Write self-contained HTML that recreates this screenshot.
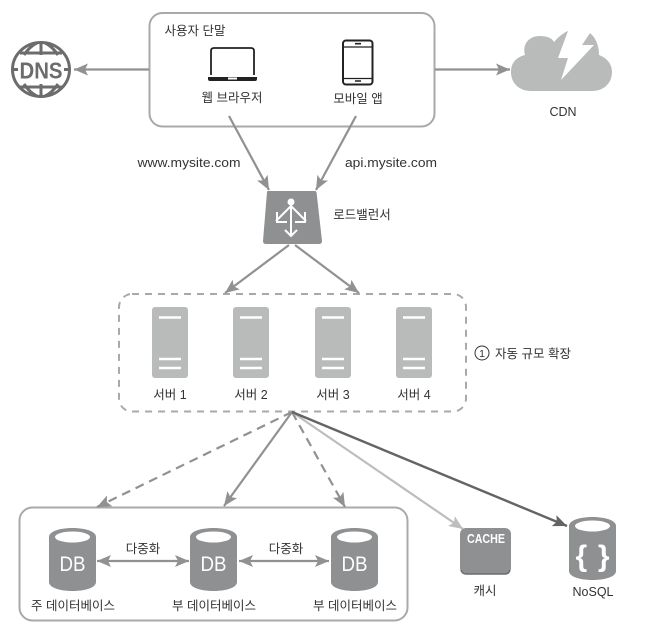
<!DOCTYPE html>
<html><head><meta charset="utf-8">
<style>
html,body{margin:0;padding:0;background:#fff}
svg{display:block}
text{font-family:"Liberation Sans","Noto Sans CJK KR",sans-serif;font-size:12.5px;fill:#333;text-anchor:middle}
</style></head>
<body>
<svg width="650" height="627" viewBox="0 0 650 627" xmlns="http://www.w3.org/2000/svg">
<defs>
<marker id="a" markerUnits="userSpaceOnUse" markerWidth="15" markerHeight="13" refX="14" refY="6.500" orient="auto-start-reverse"><path d="M0,0.5 L14,6.500 L0,12.500 L3,6.500z" fill="#919191"/></marker>
<marker id="l" markerUnits="userSpaceOnUse" markerWidth="15" markerHeight="13" refX="14" refY="6.500" orient="auto"><path d="M0,0.5 L14,6.500 L0,12.500 L3,6.500z" fill="#bcbebe"/></marker>
<marker id="d" markerUnits="userSpaceOnUse" markerWidth="15" markerHeight="13" refX="14" refY="6.500" orient="auto"><path d="M0,0.5 L14,6.500 L0,12.500 L3,6.500z" fill="#646464"/></marker>
<g id="srv"><rect x="0" y="0" width="36" height="71" rx="3" fill="#b9bbbb"/><path d="M7,10.5H29M7,52H29M7,61H29" stroke="#fff" stroke-width="2.400"/></g>
<g id="db"><path d="M0,9 C0,-3 47,-3 47,9 V54 C47,66 0,66 0,54z" fill="#8f9092"/><ellipse cx="23.500" cy="9" rx="17.500" ry="5.500" fill="#fff"/></g>
</defs>

<!-- containers -->
<rect x="149.500" y="13" width="285" height="113.500" rx="13" fill="none" stroke="#a9a9a9" stroke-width="2"/>
<rect x="119" y="294" width="347" height="117.500" rx="13" fill="none" stroke="#a9a9a9" stroke-width="2" stroke-dasharray="7 6"/>
<rect x="19.500" y="507.500" width="388" height="113" rx="13" fill="none" stroke="#a9a9a9" stroke-width="2"/>

<!-- connectors -->
<g fill="none" stroke="#919191" stroke-width="2.200">
<path d="M149,69.500H74" marker-end="url(#a)"/>
<path d="M435,69.500H510" marker-end="url(#a)"/>
<path d="M229,116L269,190" marker-end="url(#a)"/>
<path d="M356,116L316,190" marker-end="url(#a)"/>
<path d="M289,245L225,293" marker-end="url(#a)"/>
<path d="M295,245L359,293" marker-end="url(#a)"/>
<path d="M292,412L97,507" stroke-dasharray="9 6" marker-end="url(#a)"/>
<path d="M292,412L224,506" marker-end="url(#a)"/>
<path d="M292,412L345,507" stroke-dasharray="9 6" marker-end="url(#a)"/>
<path d="M97,561H189" marker-start="url(#a)" marker-end="url(#a)"/>
<path d="M239,561H329" marker-start="url(#a)" marker-end="url(#a)"/>
</g>
<path d="M292,412L463,529" fill="none" stroke="#bcbebe" stroke-width="2.200" marker-end="url(#l)"/>
<path d="M292,412L567,526" fill="none" stroke="#646464" stroke-width="2.400" marker-end="url(#d)"/>

<!-- DNS globe -->
<g fill="none" stroke="#6c6c6c" stroke-width="3">
<ellipse cx="41" cy="69.500" rx="28.500" ry="27"/>
<path d="M41,43V55M41,84V96M12,69.500H20M62,69.500H70"/>
<path d="M20,53H62M20,87H62"/>
<path d="M37,43C30,46 26,52 24,55M45,43C52,46 56,52 58,55M37,96C30,93 26,87 24,84M45,96C52,93 56,87 58,84"/>
</g>
<rect x="18" y="57" width="46" height="26" fill="#fff"/>
<text x="41" y="78.500" style="font-size:23px;font-weight:bold;fill:#6c6c6c" textLength="43" lengthAdjust="spacingAndGlyphs">DNS</text>

<!-- laptop -->
<path d="M211,75V51Q211,48 214,48H251Q254,48 254,51V75" fill="none" stroke="#222" stroke-width="1.800"/>
<path d="M208,77H257V79Q257,81 255,81H210Q208,81 208,79z" fill="#222"/>
<rect x="228" y="77.500" width="9" height="2" fill="#fff"/>

<!-- phone -->
<rect x="343" y="40.500" width="29.500" height="44" rx="3" fill="none" stroke="#222" stroke-width="2"/>
<path d="M343,47H372.500M343,78.500H372.500" stroke="#222" stroke-width="1.300"/>
<path d="M355,43.700H361M355,81H361" stroke="#222" stroke-width="1.600"/>

<!-- CDN cloud -->
<path d="M531,91 C519,91 511,83 511,72 C511,62 517,57 525,55 C522,44 529,36 540,36 C547,36 552,38 554,42 C559,36 565,32 568,31 L558,58 L568,58 L561,80 L594,45 L582,45 L590,33 C596,38 599,46 599,55 C607,58 612,64 612,72 C612,83 604,91 592,91z" fill="#b9bbbb"/>

<!-- load balancer -->
<path d="M268,191H315Q316,191 316.500,192L322,241Q322,244 319,244H266Q263,244 263,241L267,192Q267,191 268,191z" fill="#8f9092"/>
<g fill="none" stroke="#fff" stroke-width="2">
<path d="M291,203V235M291,206L276,221M291,206L306,221"/>
<path d="M277,212V222H287M305,212V222H295M285,230L291,236L297,230"/>
</g>
<circle cx="291" cy="202" r="3.500" fill="#fff"/>

<!-- servers -->
<use href="#srv" x="152" y="307"/>
<use href="#srv" x="233" y="307"/>
<use href="#srv" x="315" y="307"/>
<use href="#srv" x="396" y="307"/>

<!-- DBs -->
<use href="#db" x="49" y="528"/>
<use href="#db" x="190" y="528"/>
<use href="#db" x="331" y="528"/>
<text x="72.500" y="571" style="font-size:21px;fill:#fff" textLength="26" lengthAdjust="spacingAndGlyphs">DB</text>
<text x="213.500" y="571" style="font-size:21px;fill:#fff" textLength="26" lengthAdjust="spacingAndGlyphs">DB</text>
<text x="354.500" y="571" style="font-size:21px;fill:#fff" textLength="26" lengthAdjust="spacingAndGlyphs">DB</text>

<!-- cache -->
<rect x="460" y="528" width="51" height="46" rx="6" fill="#8f9092"/>
<path d="M461,570Q462,574 466,574H505Q509,574 510,570" fill="none" stroke="#6c6c6c" stroke-width="1.500"/>
<text x="486" y="543" style="font-size:12.500px;font-weight:bold;fill:#fff" textLength="38" lengthAdjust="spacingAndGlyphs">CACHE</text>

<!-- nosql -->
<use href="#db" x="569" y="517"/>
<text x="592.500" y="566" style="font-size:30px;fill:#fff;font-weight:bold" textLength="34" lengthAdjust="spacing">{ }</text>

<!-- labels -->
<text x="195" y="35">사용자 단말</text>
<text x="232" y="102">웹 브라우저</text>
<text x="358" y="103">모바일 앱</text>
<text x="563" y="116">CDN</text>
<text x="189" y="167" textLength="103" lengthAdjust="spacingAndGlyphs">www.mysite.com</text>
<text x="391" y="167" textLength="92" lengthAdjust="spacingAndGlyphs">api.mysite.com</text>
<text x="362" y="219">로드밸런서</text>
<text x="170" y="399">서버 1</text>
<text x="251" y="399">서버 2</text>
<text x="333" y="399">서버 3</text>
<text x="414" y="399">서버 4</text>
<circle cx="482" cy="353" r="7" fill="none" stroke="#333" stroke-width="1"/>
<text x="482" y="357" style="font-size:10.500px">1</text>
<text x="533" y="358">자동 규모 확장</text>
<text x="143" y="553">다중화</text>
<text x="286" y="553">다중화</text>
<text x="73" y="610">주 데이터베이스</text>
<text x="214" y="610">부 데이터베이스</text>
<text x="355" y="610">부 데이터베이스</text>
<text x="485" y="595">캐시</text>
<text x="593" y="596">NoSQL</text>
</svg>
</body></html>
